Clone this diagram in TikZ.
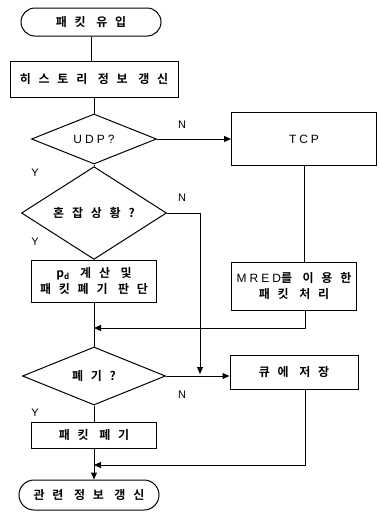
\documentclass[tikz,border=0pt]{standalone}
\usepackage{fontspec}
\setmainfont{Noto Sans CJK KR}[LetterSpace=65, BoldFont=* Bold]
\newfontfamily\latfont{Liberation Sans}[LetterSpace=25]
\usepackage{tikz}
\usetikzlibrary{arrows.meta}
\usetikzlibrary{calc}
\usetikzlibrary{positioning}
\usetikzlibrary{shapes.geometric}
\usetikzlibrary{shapes.misc}

\tikzset{
  proc/.style={draw=black, line width=1pt, rectangle, inner sep=1pt, align=center,
    font=\fontsize{12}{16}\selectfont\bfseries},
  term/.style={draw=black, line width=1pt, rounded rectangle, inner sep=1pt,
    font=\fontsize{12}{16}\selectfont\bfseries},
  cond/.style={draw=black, line width=1pt, diamond, inner sep=0pt,
    font=\fontsize{12}{16}\selectfont\bfseries},
  lbl/.style={font=\fontsize{11}{13}\latfont},
  flow/.style={line width=1pt},
  arr/.style={line width=1pt, -{Triangle[length=7pt,width=6pt]}},
}

\begin{document}
\begin{tikzpicture}[x=1pt, y=-1pt]
    \useasboundingbox (0,0) rectangle (378,512);
    \node[term, minimum width=142pt, minimum height=28pt] (in) at (91,22) {패킷 유입};
    \node[proc, minimum width=168pt, minimum height=36pt] (hist) at (94,79) {히스토리 정보 갱신};
    \node[cond, minimum width=125pt, minimum height=50pt] (udp) at (94,139) {\latfont\mdseries UDP?};
    \node[proc, minimum width=145pt, minimum height=53pt] (tcp) at (304,139) {\latfont\mdseries TCP};
    \node[cond, minimum width=145pt, minimum height=59pt] (cong) at (94,213) {혼잡상황?};
    \node[proc, minimum width=125pt, minimum height=42pt] (pd) at (94,281) {p\textsubscript{d} 계산 및\\패킷폐기 판단};
    \node[proc, minimum width=125pt, minimum height=48pt] (mred) at (294,286) {{\latfont\mdseries MRED}를 이용한\\패킷 처리};
    \node[cond, minimum width=143pt, minimum height=58pt] (drop) at (94,376) {폐기?};
    \node[proc, minimum width=128pt, minimum height=34pt] (queue) at (294,372) {큐에 저장};
    \node[proc, minimum width=125pt, minimum height=26pt] (discard) at (94,435) {패킷 폐기};
    \node[term, minimum width=142pt, minimum height=30pt] (out) at (89,495) {관련 정보 갱신};

    \coordinate (j1) at (94,328);
    \coordinate (r1) at (305,328);
    \coordinate (j2) at (94,465);
    \coordinate (r2) at (305,465);
    \coordinate (c1) at (200,374);

    % yes / no labels
    \node[lbl] (n1) at (182,125) {N};
    \node[lbl] (n2) at (182,198) {N};
    \node[lbl] (n3) at (182,395) {N};
    \node[lbl] (y1) at (35,173) {Y};
    \node[lbl] (y2) at (35,242) {Y};
    \node[lbl] (y3) at (35,413) {Y};

    \path [flow] (in.south) edge (in.south |- hist.north);
    \path [flow] (hist) edge (udp);
    \path [arr] (udp) edge (tcp);
    \path [flow] (udp) edge (cong);
    \path [flow] (cong) edge (pd);
    \path [flow] (tcp.south) edge (tcp.south |- mred.north);
    \draw [arr] (cong.east) -| (c1);
    \draw [arr] (mred.south -| r1) -- (r1) -- (j1);
    \path [flow] (pd) edge (drop);
    \path [arr] (drop.east) edge (drop.east -| queue.west);
    \path [flow] (drop) edge (discard);
    \draw [arr] (queue.south -| r2) -- (r2) -- (j2);
    \path [arr] (discard.south) edge (discard.south |- out.north);
  \end{tikzpicture}
\end{document}
